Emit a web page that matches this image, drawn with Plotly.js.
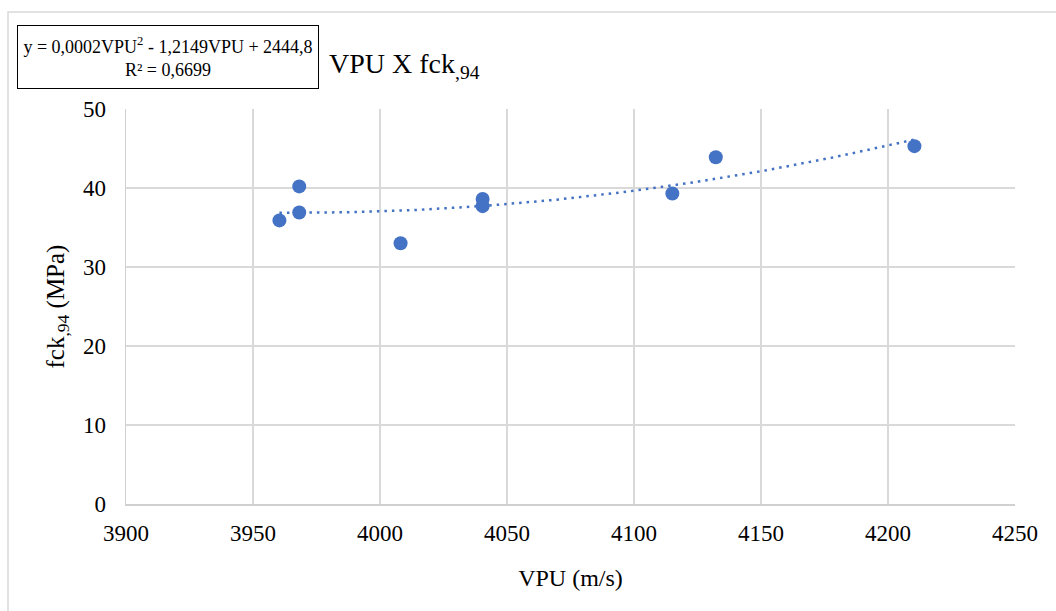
<!DOCTYPE html>
<html>
<head>
<meta charset="utf-8">
<script src="https://cdn.plot.ly/plotly-3.0.1.min.js"></script>
<style>
html,body{margin:0;padding:0;background:#fff;}
#chart{width:1056px;height:611px;}
#chart text, #chart tspan { font-family: "Liberation Serif", "Times New Roman", serif !important; }
</style>
</head>
<body>
<div id="chart"></div>
<script>
// Data
const vpu = [3960.4, 3968.2, 3968.2, 4008.1, 4040.4, 4040.4, 4115.1, 4132.2, 4210.4];
const fck94 = [35.9, 40.2, 36.9, 33.0, 38.6, 37.7, 39.3, 43.9, 45.3];
const xTicks = [3900, 3950, 4000, 4050, 4100, 4150, 4200, 4250];
const yTicks = [0, 10, 20, 30, 40, 50];
const equationText = 'y = 0,0002VPU<sup>2</sup> - 1,2149VPU + 2444,8<br>R² = 0,6699';
const titleText = 'VPU X fck<sub>,94</sub>';
const xTitle = 'VPU (m/s)';
const yTitle = 'fck<sub>,94</sub> (MPa)';

// Quadratic least-squares trendline computed from the data (centered for stability)
function quadFit(xs, ys) {
  const n = xs.length;
  const m = xs.reduce((a, b) => a + b, 0) / n;
  let S = [0,0,0,0,0], T = [0,0,0];
  for (let i = 0; i < n; i++) {
    const u = xs[i] - m;
    let p = 1;
    for (let k = 0; k < 5; k++) { S[k] += p; if (k < 3) T[k] += p * ys[i]; p *= u; }
  }
  const A = [[S[0],S[1],S[2],T[0]],[S[1],S[2],S[3],T[1]],[S[2],S[3],S[4],T[2]]];
  for (let c = 0; c < 3; c++) {
    for (let r = c + 1; r < 3; r++) {
      const f = A[r][c] / A[c][c];
      for (let k = c; k < 4; k++) A[r][k] -= f * A[c][k];
    }
  }
  const coef = [0,0,0];
  for (let r = 2; r >= 0; r--) {
    let s = A[r][3];
    for (let k = r + 1; k < 3; k++) s -= A[r][k] * coef[k];
    coef[r] = s / A[r][r];
  }
  return x => { const u = x - m; return coef[0] + coef[1]*u + coef[2]*u*u; };
}
const fit = quadFit(vpu, fck94);
const xmin = Math.min(...vpu), xmax = Math.max(...vpu);
const tx = [], ty = [];
for (let i = 0; i <= 100; i++) { const x = xmin + (xmax - xmin) * i / 100; tx.push(x); ty.push(fit(x)); }

const blue = '#4472C4';
const font = 'Liberation Serif';
const L = 126, R = 1015, T = 109, B = 504;
const pw = R - L, ph = B - T;
const px = v => (v - L) / pw;
const py = v => (B - v) / ph;

const traces = [
  {x: tx, y: ty, mode: 'lines', type: 'scatter', line: {color: blue, width: 2.5, dash: '2.5px,5px'}, hoverinfo: 'skip', showlegend: false},
  {x: vpu, y: fck94, mode: 'markers', type: 'scatter', marker: {color: blue, size: 14}, showlegend: false}
];

const layout = {
  width: 1056, height: 611,
  margin: {l: L, r: 1056 - R, t: T, b: 611 - B, pad: 0},
  paper_bgcolor: '#fff', plot_bgcolor: '#fff',
  font: {family: font, color: '#000', size: 23},
  title: {text: titleText, font: {family: font, size: 28, color: '#000'}, xref: 'container', yref: 'container', x: 329/1056, xanchor: 'left', y: 1 - 63/611, yanchor: 'middle'},
  xaxis: {range: [3900, 4250], tickvals: xTicks, ticktext: xTicks.map(String), showgrid: true, gridcolor: '#d9d9d9', gridwidth: 1.5,
          zeroline: false, showline: true, linecolor: '#d0d0d0', linewidth: 1.5, ticks: '', tickfont: {size: 23, family: font, color: '#000'}, ticklabelstandoff: 8,
          title: {text: xTitle, font: {size: 24, family: font, color: '#000'}, standoff: 24}, automargin: false},
  yaxis: {range: [0, 50], tickvals: yTicks, ticktext: yTicks.map(String), showgrid: true, gridcolor: '#d9d9d9', gridwidth: 1.5,
          zeroline: false, showline: true, linecolor: '#d0d0d0', linewidth: 1.5, ticks: '', tickfont: {size: 23, family: font, color: '#000'}, ticklabelstandoff: 14,
          title: {text: yTitle, font: {size: 25, family: font, color: '#000'}, standoff: 11}, automargin: false},
  shapes: [
    {type: 'rect', xref: 'paper', yref: 'paper', x0: px(8), x1: px(1070), y0: py(630), y1: py(12), line: {color: '#d9d9d9', width: 1.5}, fillcolor: 'rgba(0,0,0,0)', layer: 'below'}
  ],
  annotations: [
    {text: equationText, xref: 'paper', yref: 'paper', x: px(17), y: py(25), xanchor: 'left', yanchor: 'top', showarrow: false, align: 'center',
     font: {family: font, size: 18, color: '#000'}, bordercolor: '#000', borderwidth: 1, borderpad: 2, width: 296, height: 58, bgcolor: '#fff'}
  ]
};

Plotly.newPlot('chart', traces, layout, {displayModeBar: false, staticPlot: true});
</script>
</body>
</html>
